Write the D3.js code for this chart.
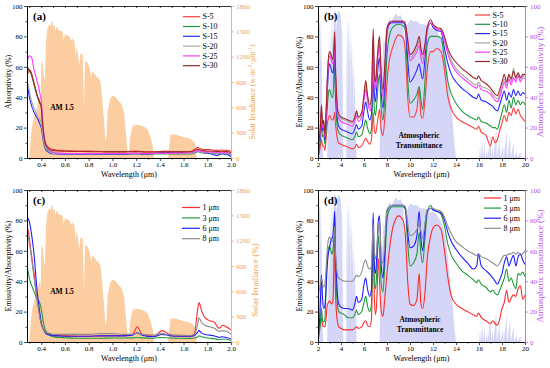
<!DOCTYPE html>
<html><head><meta charset="utf-8">
<script src="https://cdn.jsdelivr.net/npm/d3@7/dist/d3.min.js"></script>
<style>
body{margin:0;background:#fff;}
svg{display:block;font-family:"Liberation Serif","Times New Roman",serif;}
</style></head><body>
<svg id="chart" width="550" height="368"></svg>
<script>
// ---------------- Solar irradiance AM1.5 (W m^-2 um^-1) ----------------
const solarX = [0.28,0.295,0.30,0.31,0.32,0.33,0.34,0.35,0.36,0.37,0.38,0.39,0.395,0.40,0.41,0.42,0.43,0.44,0.45,0.46,0.47,0.48,0.49,0.50,0.51,0.52,0.53,0.54,0.55,0.56,0.57,0.58,0.59,0.60,0.62,0.64,0.65,0.66,0.68,0.69,0.70,0.72,0.73,0.75,0.76,0.77,0.79,0.81,0.82,0.83,0.85,0.87,0.88,0.90,0.91,0.93,0.94,0.95,0.96,0.98,1.00,1.03,1.05,1.08,1.10,1.12,1.13,1.14,1.15,1.17,1.20,1.23,1.25,1.28,1.30,1.32,1.34,1.35,1.47,1.48,1.49,1.52,1.55,1.60,1.65,1.68,1.70,1.71,2.00];
const solarY = [0,0,30,200,350,430,480,520,560,640,700,720,600,1100,1150,1000,900,1350,1520,1560,1580,1560,1640,1560,1580,1500,1560,1530,1520,1500,1510,1490,1400,1470,1450,1440,1380,1420,1380,1200,1330,1100,1230,1230,600,1150,1130,1050,950,1020,1000,950,960,900,760,450,200,250,550,700,740,720,680,630,520,200,50,80,250,380,390,390,380,360,330,250,150,0,0,150,270,280,270,250,230,200,170,0,0];

// ---------------- Panel (a) absorptivity ----------------
const xA = [0.28,0.29,0.30,0.31,0.32,0.33,0.34,0.35,0.36,0.37,0.38,0.39,0.40,0.41,0.42,0.43,0.44,0.46,0.48,0.50,0.55,0.60,0.70,0.80,0.90,1.00,1.10,1.20,1.25,1.30,1.40,1.45,1.50,1.60,1.66,1.70,1.72,1.74,1.78,1.82,1.86,1.88,1.92,1.96,2.00];
const aS5  = [55,56,58,57,55,52,49,46,43,40,38,36,34,24,15,11,9,7,6,5.5,5,4.8,4.5,4.5,4.3,4.2,4.2,4.6,4.2,4,4.3,4.5,4.3,4.2,4.3,6,7,6,5.5,5.5,5,5,5.3,5,4.5];
const aS10 = [59,58,57,56,54,51,48,45,42,40,38,36,34,23,15,10,7,5,4,3.5,3,2.9,2.8,2.8,2.7,2.7,2.7,2.9,2.7,2.6,2.7,2.7,2.6,2.6,2.7,3.6,4.2,3.6,3.1,3,2.8,2.6,2.8,2.5,2];
const aS15 = [50,45,40,37,34,32,30,28.5,27,26,24,22,20,15,10,7,5,4,3,2.8,2.5,2.5,2.5,2.5,2.5,2.5,2.5,2.8,2.5,2.5,3.5,3.8,3.5,3.2,3,4,4.5,4,3.5,3,2,1.5,2.8,2.5,1];
const aS20 = [52,48,44,40,37,35,33,31,29,27,26,25,23,17,11,8,6,4.5,3.5,3,2.8,2.8,2.8,2.8,2.8,2.8,2.8,3,2.8,2.8,3,3,3,3,3,4,4.5,4,3.5,3.5,3.3,3,3.3,3,2.5];
const aS25 = [63,66,67,67,66,62,58,55,52,49,46,42,38,28,18,12,9,6,4.5,3.8,3.2,3,3,3,3,3,3,3.2,3,3,3.2,3.2,3.2,3.2,3.5,4.5,5,4.5,4,4,3.8,3.5,3.8,3.5,3];
const aS30 = [60,59,58,57,55,52,49,46,43,40,38,36,34,24,16,11,8.5,6.5,5.5,5,4.6,4.4,4.3,4.2,4.1,4,4,4.2,4,3.9,4,4,4,4,4.2,5.2,5.8,5.2,4.7,4.6,4.4,4.2,4.4,4.2,3.6];

// ---------------- Panel (c) absorptivity ----------------
const xC = [0.28,0.29,0.30,0.31,0.32,0.33,0.34,0.35,0.36,0.37,0.38,0.39,0.40,0.41,0.42,0.43,0.45,0.48,0.50,0.55,0.60,0.70,0.80,0.90,1.00,1.10,1.17,1.21,1.25,1.35,1.42,1.48,1.55,1.65,1.69,1.72,1.73,1.75,1.78,1.82,1.86,1.90,1.93,1.96,2.00];
const cT1 = [77,73,68,62,56,50,45,38,32,26,21,16,12,10,8,7,5.5,5,4.5,4.2,4,3.8,3.8,4,4.2,4.2,5,10,5,3.8,7.5,5,4,3.8,5,22,26,21,16,14,13,9,11,10,8];
const cT3 = [50,46,42,39,37,35,33,31,29,28,27,25,22,17,12,9,6,4,3.5,3,2.8,2.5,2.5,2.5,2.6,2.6,2.7,3,2.7,2.5,3,2.6,2.5,2.4,2.6,3.5,4,3.5,3,2.5,2.2,1.5,2,1.8,1];
const cT6 = [83,81,79,75,70,64,57,48,38,30,24,18,13,10,8,6.5,5,4.5,4.2,4,3.8,3.8,3.8,4,4,4,4.5,6,4.5,3.5,5,4.2,3.8,3.8,4.2,6.5,7.5,6,5,4.5,4,3,3.5,3,2];
const cT8 = [72,69,65,60,54,48,42,36,30,25,20,15,12,9.5,8,7,6,5.5,5,5,5,5,5,5.5,5.5,5,5,6,5,4.5,5.5,4.8,4.5,4.3,5,12,16,13,11,10,9,7,7.5,7,5];

// ---------------- Atmospheric transmittance (%) ----------------
const atmX = [2.0,2.05,2.1,2.15,2.2,2.25,2.3,2.35,2.4,2.45,2.8,2.85,2.9,2.95,3.0,3.05,3.1,3.15,3.2,3.3,3.4,3.5,3.6,3.7,3.8,3.9,4.0,4.1,4.15,4.2,4.45,4.5,4.55,4.6,4.65,4.7,4.75,4.8,4.85,4.9,5.0,5.05,5.1,5.2,5.25,5.3,5.35,7.35,7.4,7.45,7.5,7.55,7.6,7.7,7.8,7.9,8.0,8.2,8.4,8.6,8.8,9.0,9.2,9.4,9.5,9.6,9.7,9.8,10.0,10.3,10.6,10.9,11.2,11.5,11.8,12.0,12.3,12.6,12.9,13.1,13.3,13.5,13.7,13.85,14.0,16.0,16.1,16.15,16.3,16.35,16.5,16.55,16.7,16.75,17.0,17.05,17.2,17.25,17.5,17.55,17.8,17.85,18.1,18.15,18.4,18.45,18.7,18.75,19.0,19.05,19.3,19.35,19.6,19.65,20.0];
const atmY = [90,98,95,85,92,60,80,40,10,0,0,30,60,20,70,40,85,60,92,75,95,98,85,97,95,97,92,80,40,0,0,70,90,40,92,85,60,88,30,80,50,75,30,60,10,40,0,0,20,50,30,70,60,80,75,88,85,92,90,93,95,93,94,90,75,70,80,88,91,90,90,88,88,87,85,86,84,80,75,68,55,40,25,10,0,0,8,0,12,0,10,0,6,0,15,0,8,0,20,0,12,0,8,0,18,0,15,0,10,0,5,0,4,0,0];

// ---------------- Panel (b) emissivity ----------------
const xB = [2.0,2.1,2.2,2.3,2.4,2.5,2.6,2.7,2.8,2.9,3.0,3.1,3.2,3.3,3.4,3.45,3.5,3.6,3.7,3.8,4.0,4.3,4.6,5.0,5.2,5.35,5.5,5.8,6.0,6.15,6.3,6.5,6.65,6.8,6.9,7.0,7.1,7.25,7.35,7.5,7.65,7.8,8.0,8.2,8.5,9.0,9.4,9.6,9.8,10.0,10.3,10.6,10.8,10.95,11.1,11.3,11.5,11.8,12.0,12.3,12.7,13.0,13.3,13.6,14.0,14.5,15.0,15.5,15.8,15.95,16.2,16.6,17.0,17.2,17.4,17.6,17.8,18.0,18.2,18.4,18.6,18.8,19.0,19.2,19.4,19.6,19.8,20.0];
const bS5  = [1,3,8,12,8,8,5,12,22,26,28,27,25,25,28,30,24,17,12,10,9,8,7,6,7,9,7,8,11,13,11,9,12,30,18,16,20,28,32,18,15,25,50,64,73,81,79,70,40,27,27,32,46,28,26,38,58,70,70,72,70,58,40,32,27,24,22,20,19,21,17,15,8,14,10,12,18,23,28,24,30,28,33,29,32,28,26,24];
const bS10 = [3,6,12,22,14,15,9,18,32,42,45,43,40,40,60,80,45,28,19,17,15,14,13,12,14,17,14,15,21,25,20,16,19,50,32,28,35,50,55,32,25,38,68,80,86,88,87,84,52,36,38,42,47,38,32,50,75,80,80,80,79,65,50,42,36,31,28,26,25,27,24,23,21,20,20,19,24,30,35,30,38,33,40,35,38,35,37,35];
const bS15 = [4,8,15,30,18,20,12,24,42,56,62,60,57,56,65,75,52,35,24,21,19,18,17,16,19,22,19,21,31,37,31,25,29,68,42,37,46,62,66,42,33,48,82,88,89,89,89,86,65,50,53,58,62,56,52,65,84,89,86,84,83,72,62,55,50,46,43,40,39,42,38,37,35,34,32,31,35,40,44,38,43,40,45,41,44,41,43,42];
const bS20 = [7,11,19,32,21,23,14,29,49,64,69,68,65,64,72,80,62,42,30,28,26,25,24,23,26,30,26,29,40,48,40,33,37,80,52,47,57,72,77,52,42,58,85,89,90,90,90,88,76,66,68,72,77,69,65,73,85,89,87,85,84,78,70,64,59,55,52,49,48,50,47,46,44,42,40,39,42,47,52,48,54,50,59,52,56,52,54,54];
const bS25 = [6,10,18,30,20,22,14,28,48,62,67,66,63,62,70,78,60,40,28,26,24,23,22,21,24,28,24,27,38,45,38,31,35,78,50,45,55,70,75,50,40,56,84,89,90,90,90,88,75,64,66,70,74,66,62,72,85,89,87,85,84,77,68,62,57,53,50,47,46,48,45,44,42,40,38,37,40,45,50,46,52,48,53,50,54,50,53,52];
const bS30 = [8,12,20,35,22,25,15,30,50,65,70,69,66,65,75,83,65,45,32,29,27,26,25,24,27,31,27,30,42,51,42,35,40,85,55,50,60,75,80,55,45,60,85,89,90,90,90,88,78,68,70,75,80,72,68,75,86,91,88,86,85,80,72,67,63,59,56,53,52,54,51,49,46,44,42,41,45,50,55,50,55,52,57,53,56,53,55,55];

// ---------------- Panel (d) emissivity ----------------
const dT1 = [5,7,12,16,11,10,10,15,24,26,27,26,25,27,60,82,40,20,13,10,9,8,8,8,9,10,9,10,13,14,11,10,15,70,30,18,25,55,40,20,17,28,45,60,75,83,80,70,40,25,24,28,45,25,22,32,55,70,75,77,74,60,42,30,25,22,20,18,17,19,16,14,12,14,12,11,15,22,26,34,26,29,31,30,35,37,28,31];
const dT3 = [2,5,12,22,14,13,15,35,55,61,63,61,58,60,70,78,55,35,24,20,19,18,16,16,18,21,18,20,26,30,24,20,25,75,40,35,45,70,60,38,33,50,80,87,89,89,89,87,65,50,52,58,72,58,52,68,85,90,87,86,84,76,64,57,52,47,44,41,39,41,38,36,33,34,32,31,34,38,42,48,40,42,38,35,45,44,46,43];
const dT6 = [7,10,25,44,28,22,24,35,50,58,62,66,68,70,80,86,65,45,30,25,23,22,22,21,25,30,26,28,38,42,35,30,35,85,50,45,55,80,83,50,42,58,86,89,90,90,90,88,72,62,63,70,86,68,60,75,86,88,87,86,85,80,72,66,61,56,52,48,50,58,50,47,44,42,40,38,41,45,52,56,50,54,57,50,56,58,54,51];
const dT8 = [32,34,38,42,38,36,38,48,60,67,69,68,66,67,72,76,62,50,44,42,41,40,40,40,42,44,43,46,52,54,50,48,50,78,58,55,60,75,80,56,52,65,87,89,90,90,90,89,78,70,71,74,78,73,68,78,87,88,88,87,86,82,76,71,66,63,60,58,57,58,56,55,53,52,51,50,52,55,57,57,58,58,59,58,59,57,58,60];

// ---------------- Tick labels ----------------
const ticksLeft = [0,20,40,60,80,100];
const ticksSolar = [0,300,600,900,1200,1500,1800];
const ticksAtm = [0,20,40,60,80,100];
const ticksShort = [0.4,0.6,0.8,1.0,1.2,1.4,1.6,1.8,2.0];
const ticksLong = [2,4,6,8,10,12,14,16,18,20];

const legendA = ["S-5","S-10","S-15","S-20","S-25","S-30"];
const colorsA = ["#ff3b3b","#1f9a3c","#2a2aff","#a6a6a6","#ff3cff","#a32626"];
const legendC = ["1 μm","3 μm","6 μm","8 μm"];
const colorsC = ["#ff2a2a","#1f9a3c","#1e1eff","#8c8c8c"];

const ORANGE = "#f5a043", SOLARFILL = "#fccda0";
const PURPLE = "#b84ff0", ATMFILL = "rgba(150,150,235,0.4)";

const svg = d3.select("#chart");
let clipN = 0;

function styleAxis(g, color, fs){
  g.select(".domain").attr("stroke", color).attr("stroke-width", 0.8);
  g.selectAll(".tick line").attr("stroke", color).attr("stroke-width", 0.7);
  g.selectAll(".tick text").attr("fill", color).attr("font-size", fs)
    .attr("font-family", '"Liberation Serif","Times New Roman",serif');
}

function panel(o){
  const x = d3.scaleLinear().domain(o.xDomain).range([o.L, o.R]);
  const y = d3.scaleLinear().domain([0,100]).range([o.B, o.T]);
  const y2 = d3.scaleLinear().domain(o.y2Domain).range([o.B, o.T]);
  const g = svg.append("g");
  const id = "clip" + (clipN++);
  svg.append("clipPath").attr("id", id).append("rect")
    .attr("x", o.L).attr("y", o.T).attr("width", o.R - o.L).attr("height", o.B - o.T);
  const plot = g.append("g").attr("clip-path", `url(#${id})`);

  const area = d3.area().x((d,i) => x(o.fillX[i])).y0(o.B).y1(d => y2(d));
  plot.append("path").datum(o.fillY).attr("d", area).attr("fill", o.fillColor).attr("stroke", "none");

  const line = d3.line().x((d,i) => x(o.sx[i])).y(d => y(d)).curve(d3.curveMonotoneX);
  o.series.forEach((s,k) => {
    plot.append("path").datum(s).attr("d", line).attr("fill", "none")
      .attr("stroke", o.colors[k]).attr("stroke-width", 1.1).attr("stroke-linejoin", "round");
  });

  const gb = g.append("g").attr("transform", `translate(0,${o.B})`)
    .call(d3.axisBottom(x).tickValues(o.xTicks).tickSize(3).tickSizeOuter(0).tickPadding(1.5).tickFormat(o.xFmt));
  styleAxis(gb, "#000", 7);
  const gbm = g.append("g").attr("transform", `translate(0,${o.B})`)
    .call(d3.axisBottom(x).tickValues(o.xMinor).tickSize(1.6).tickSizeOuter(0).tickFormat(""));
  styleAxis(gbm, "#000", 7);
  const gt = g.append("g").attr("transform", `translate(0,${o.T})`)
    .call(d3.axisTop(x).tickValues(o.xTicks.concat(o.xMinor)).tickSize(-2).tickSizeOuter(0).tickFormat(""));
  styleAxis(gt, "#000", 7);
  const gl = g.append("g").attr("transform", `translate(${o.L},0)`)
    .call(d3.axisLeft(y).tickValues(ticksLeft).tickSize(3).tickSizeOuter(0).tickPadding(1.5).tickFormat(d3.format("d")));
  styleAxis(gl, "#000", 7);
  const glm = g.append("g").attr("transform", `translate(${o.L},0)`)
    .call(d3.axisLeft(y).tickValues([10,30,50,70,90]).tickSize(1.6).tickSizeOuter(0).tickFormat(""));
  styleAxis(glm, "#000", 7);
  const gr = g.append("g").attr("transform", `translate(${o.R},0)`)
    .call(d3.axisRight(y2).tickValues(o.y2Ticks).tickSize(3).tickSizeOuter(0).tickPadding(2).tickFormat(d3.format("d")));
  styleAxis(gr, o.rColor, 7);

  g.append("text").attr("x", (o.L + o.R)/2).attr("y", o.B + 19).attr("text-anchor", "middle")
    .attr("font-size", 8).text("Wavelength (μm)");
  g.append("text").attr("transform", `translate(${o.ylX},${(o.T+o.B)/2}) rotate(-90)`)
    .attr("text-anchor", "middle").attr("font-size", o.ylFs).text(o.ylabel);
  const rt = g.append("text").attr("transform", `translate(${o.yrX},${o.yrY}) rotate(-90)`)
    .attr("text-anchor", "middle").attr("font-size", o.yrFs).attr("fill", o.rColor);
  o.yrParts.forEach(p => {
    const t = rt.append("tspan").text(p[0]);
    if (p[1] === "sup") { t.attr("dy", -3).attr("font-size", o.yrFs*0.65); }
    if (p[1] === "down") { t.attr("dy", 3); }
  });

  g.append("text").attr("x", o.L + 6).attr("y", o.T + 13.5).attr("font-size", 11)
    .attr("font-weight", "bold").text(o.label);

  o.note.forEach((t,i) => {
    g.append("text").attr("x", o.noteX).attr("y", o.noteY + i*10.5).attr("text-anchor", "middle")
      .attr("font-size", 7.5).attr("font-weight", "bold").text(t);
  });

  o.legend.forEach((name,k) => {
    const yy = o.lgY + k*o.lgDy;
    g.append("line").attr("x1", o.lgX).attr("x2", o.lgX + o.lgW).attr("y1", yy).attr("y2", yy)
      .attr("stroke", o.colors[k]).attr("stroke-width", 1.2);
    g.append("text").attr("x", o.lgX + o.lgW + 2.5).attr("y", yy + 2.6).attr("font-size", 8).text(name);
  });
}

const fmt1 = d3.format(".1f");
const minorShort = [0.3,0.5,0.7,0.9,1.1,1.3,1.5,1.7,1.9];
const minorLong = [3,5,7,9,11,13,15,17,19];
const solarParts = [["Solar Irradiance (w·m"],["-2","sup"],["·μm","down"],["-1","sup"],[")","down"]];

panel({L:27,R:231,T:6,B:158,xDomain:[0.28,2.0],xTicks:ticksShort,xMinor:minorShort,xFmt:fmt1,
  y2Domain:[0,1800],y2Ticks:ticksSolar,rColor:ORANGE,fillX:solarX,fillY:solarY,fillColor:SOLARFILL,
  sx:xA,series:[aS5,aS10,aS15,aS20,aS25,aS30],colors:colorsA,legend:legendA,
  lgX:183,lgW:17,lgY:16.7,lgDy:9.8,label:"(a)",note:["AM 1.5"],noteX:62,noteY:110,
  ylabel:"Absorptivity (%)",ylX:10.5,ylFs:8,yrX:255,yrY:92,yrFs:8,yrParts:solarParts});

panel({L:318,R:525,T:6,B:158,xDomain:[2,20],xTicks:ticksLong,xMinor:minorLong,xFmt:d3.format("d"),
  y2Domain:[0,100],y2Ticks:ticksAtm,rColor:PURPLE,fillX:atmX,fillY:atmY,fillColor:ATMFILL,
  sx:xB,series:[bS5,bS10,bS15,bS20,bS25,bS30],colors:colorsA,legend:legendA,
  lgX:475,lgW:15,lgY:15,lgDy:9.3,label:"(b)",note:["Atmospheric","Transmittance"],noteX:419,noteY:137.5,
  ylabel:"Emissivity/Absorptivity (%)",ylX:302,ylFs:8,yrX:543,yrY:82,yrFs:9,yrParts:[["Atmospheric transmitivity (%)"]]});

panel({L:27,R:231,T:190,B:342,xDomain:[0.28,2.0],xTicks:ticksShort,xMinor:minorShort,xFmt:fmt1,
  y2Domain:[0,1800],y2Ticks:ticksSolar,rColor:ORANGE,fillX:solarX,fillY:solarY,fillColor:SOLARFILL,
  sx:xC,series:[cT1,cT3,cT6,cT8],colors:colorsC,legend:legendC,
  lgX:182,lgW:18,lgY:207.5,lgDy:10.4,label:"(c)",note:["AM 1.5"],noteX:62,noteY:294,
  ylabel:"Emissivity/Absorptivity (%)",ylX:10.5,ylFs:8,yrX:258,yrY:280,yrFs:9,yrParts:[["Solar Irradiance (%)"]]});

panel({L:318,R:525,T:190,B:342,xDomain:[2,20],xTicks:ticksLong,xMinor:minorLong,xFmt:d3.format("d"),
  y2Domain:[0,100],y2Ticks:ticksAtm,rColor:PURPLE,fillX:atmX,fillY:atmY,fillColor:ATMFILL,
  sx:xB,series:[dT1,dT3,dT6,dT8],colors:colorsC,legend:legendC,
  lgX:484,lgW:17,lgY:198,lgDy:10.1,label:"(d)",note:["Atmospheric","Transmittance"],noteX:420,noteY:321.5,
  ylabel:"Emissivity/Absorptivity (%)",ylX:302,ylFs:8,yrX:543,yrY:266,yrFs:9,yrParts:[["Atmospheric transmittance (%)"]]});
</script>
</body></html>
